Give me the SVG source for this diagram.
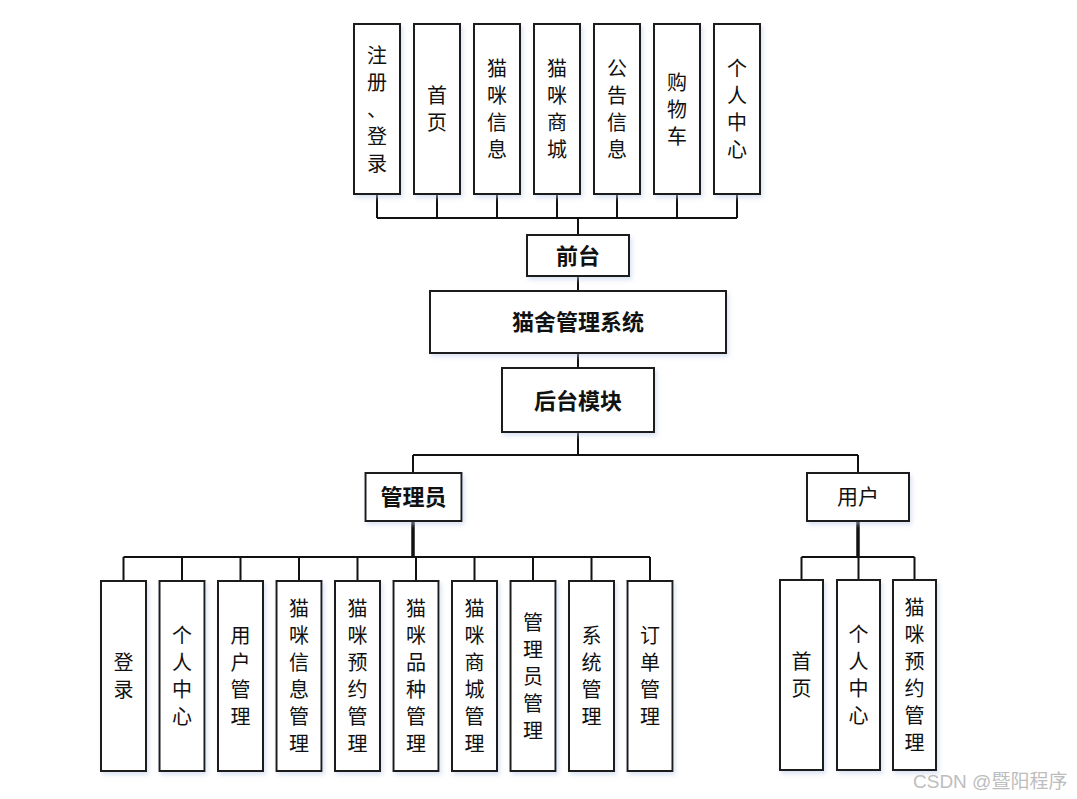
<svg xmlns="http://www.w3.org/2000/svg" width="1077" height="799" viewBox="0 0 1077 799">
<defs>
<filter id="sh" x="-20%" y="-20%" width="140%" height="140%">
<feDropShadow dx="2" dy="3" stdDeviation="2" flood-color="#b8c8e8" flood-opacity="0.5"/>
</filter>
<style>
.box{fill:#ffffff;stroke:#1a1a1a;stroke-width:2;filter:url(#sh)}
.t{font-family:"Noto Sans CJK SC","Microsoft YaHei",sans-serif;font-size:20px;fill:#111;text-anchor:middle;dominant-baseline:central;transform:translateY(-1.5px)}
.b{font-family:"Noto Sans CJK SC","Microsoft YaHei",sans-serif;font-size:22px;font-weight:bold;fill:#111;text-anchor:middle;dominant-baseline:central;transform:translateY(-2px)}
.r{font-family:"Noto Sans CJK SC","Microsoft YaHei",sans-serif;font-size:21px;fill:#111;text-anchor:middle;dominant-baseline:central;transform:translateY(-2px)}
.ln{fill:none;stroke:#111;stroke-width:2}
.thick{fill:none;stroke:#111;stroke-width:3.5}
</style>
</defs>
<rect width="1077" height="799" fill="#ffffff"/>

<g id="connectors">
<path class="ln" d="M377 194V218M437 194V218M497 194V218M557 194V218M617 194V218M677 194V218M737 194V218M377 218H737M578 218V235"/>
<path class="ln" d="M578 276V291M578 353V368M578 432V455M413 455H858M413 455V473M858 455V473"/>
<path class="thick" d="M413 521V557"/>
<path class="ln" d="M123.5 557H650M123.5 557V581M182 557V581M240.5 557V581M299 557V581M357.5 557V581M416 557V581M474.5 557V581M533 557V581M591.5 557V581M650 557V581"/>
<path class="thick" d="M858 521V557"/>
<path class="ln" d="M801.5 557H914.5M801.5 557V580M858.5 557V580M914.5 557V580"/>
</g>

<g id="top-register">
<rect class="box" x="354" y="24" width="46" height="170"/>
<text class="t"><tspan x="377" y="55">注</tspan><tspan x="377" y="82">册</tspan><tspan x="377" y="109">、</tspan><tspan x="377" y="136">登</tspan><tspan x="377" y="163">录</tspan></text>
</g>
<g id="top-home">
<rect class="box" x="414" y="24" width="46" height="170"/>
<text class="t"><tspan x="437" y="95.5">首</tspan><tspan x="437" y="122.5">页</tspan></text>
</g>
<g id="top-catinfo">
<rect class="box" x="474" y="24" width="46" height="170"/>
<text class="t"><tspan x="497" y="68.5">猫</tspan><tspan x="497" y="95.5">咪</tspan><tspan x="497" y="122.5">信</tspan><tspan x="497" y="149.5">息</tspan></text>
</g>
<g id="top-catmall">
<rect class="box" x="534" y="24" width="46" height="170"/>
<text class="t"><tspan x="557" y="68.5">猫</tspan><tspan x="557" y="95.5">咪</tspan><tspan x="557" y="122.5">商</tspan><tspan x="557" y="149.5">城</tspan></text>
</g>
<g id="top-notice">
<rect class="box" x="594" y="24" width="46" height="170"/>
<text class="t"><tspan x="617" y="68.5">公</tspan><tspan x="617" y="95.5">告</tspan><tspan x="617" y="122.5">信</tspan><tspan x="617" y="149.5">息</tspan></text>
</g>
<g id="top-cart">
<rect class="box" x="654" y="24" width="46" height="170"/>
<text class="t"><tspan x="677" y="82">购</tspan><tspan x="677" y="109">物</tspan><tspan x="677" y="136">车</tspan></text>
</g>
<g id="top-personal">
<rect class="box" x="714" y="24" width="46" height="170"/>
<text class="t"><tspan x="737" y="68.5">个</tspan><tspan x="737" y="95.5">人</tspan><tspan x="737" y="122.5">中</tspan><tspan x="737" y="149.5">心</tspan></text>
</g>

<g id="frontend">
<rect class="box" x="527" y="235" width="102" height="41"/>
<text class="b" x="578" y="256">前台</text>
</g>
<g id="system">
<rect class="box" x="430" y="291" width="296" height="62"/>
<text class="b" x="578" y="322">猫舍管理系统</text>
</g>
<g id="backend">
<rect class="box" x="502" y="368" width="152" height="64"/>
<text class="b" x="578" y="401">后台模块</text>
</g>
<g id="admin">
<rect class="box" x="365.5" y="473" width="96" height="48"/>
<text class="b" x="413.5" y="497">管理员</text>
</g>
<g id="user">
<rect class="box" x="807" y="473" width="102" height="48"/>
<text class="r" x="858" y="497">用户</text>
</g>

<g id="admin-login">
<rect class="box" x="101" y="581" width="45" height="190"/>
<text class="t"><tspan x="123.5" y="662.5">登</tspan><tspan x="123.5" y="689.5">录</tspan></text>
</g>
<g id="admin-personal">
<rect class="box" x="159.5" y="581" width="45" height="190"/>
<text class="t"><tspan x="182" y="635.5">个</tspan><tspan x="182" y="662.5">人</tspan><tspan x="182" y="689.5">中</tspan><tspan x="182" y="716.5">心</tspan></text>
</g>
<g id="admin-users">
<rect class="box" x="218" y="581" width="45" height="190"/>
<text class="t"><tspan x="240.5" y="635.5">用</tspan><tspan x="240.5" y="662.5">户</tspan><tspan x="240.5" y="689.5">管</tspan><tspan x="240.5" y="716.5">理</tspan></text>
</g>
<g id="admin-catinfo">
<rect class="box" x="276.5" y="581" width="45" height="190"/>
<text class="t"><tspan x="299" y="608.5">猫</tspan><tspan x="299" y="635.5">咪</tspan><tspan x="299" y="662.5">信</tspan><tspan x="299" y="689.5">息</tspan><tspan x="299" y="716.5">管</tspan><tspan x="299" y="743.5">理</tspan></text>
</g>
<g id="admin-catbooking">
<rect class="box" x="335" y="581" width="45" height="190"/>
<text class="t"><tspan x="357.5" y="608.5">猫</tspan><tspan x="357.5" y="635.5">咪</tspan><tspan x="357.5" y="662.5">预</tspan><tspan x="357.5" y="689.5">约</tspan><tspan x="357.5" y="716.5">管</tspan><tspan x="357.5" y="743.5">理</tspan></text>
</g>
<g id="admin-catbreed">
<rect class="box" x="393.5" y="581" width="45" height="190"/>
<text class="t"><tspan x="416" y="608.5">猫</tspan><tspan x="416" y="635.5">咪</tspan><tspan x="416" y="662.5">品</tspan><tspan x="416" y="689.5">种</tspan><tspan x="416" y="716.5">管</tspan><tspan x="416" y="743.5">理</tspan></text>
</g>
<g id="admin-catmall">
<rect class="box" x="452" y="581" width="45" height="190"/>
<text class="t"><tspan x="474.5" y="608.5">猫</tspan><tspan x="474.5" y="635.5">咪</tspan><tspan x="474.5" y="662.5">商</tspan><tspan x="474.5" y="689.5">城</tspan><tspan x="474.5" y="716.5">管</tspan><tspan x="474.5" y="743.5">理</tspan></text>
</g>
<g id="admin-admins">
<rect class="box" x="510.5" y="581" width="45" height="190"/>
<text class="t"><tspan x="533" y="622">管</tspan><tspan x="533" y="649">理</tspan><tspan x="533" y="676">员</tspan><tspan x="533" y="703">管</tspan><tspan x="533" y="730">理</tspan></text>
</g>
<g id="admin-system">
<rect class="box" x="569" y="581" width="45" height="190"/>
<text class="t"><tspan x="591.5" y="635.5">系</tspan><tspan x="591.5" y="662.5">统</tspan><tspan x="591.5" y="689.5">管</tspan><tspan x="591.5" y="716.5">理</tspan></text>
</g>
<g id="admin-orders">
<rect class="box" x="627.5" y="581" width="45" height="190"/>
<text class="t"><tspan x="650" y="635.5">订</tspan><tspan x="650" y="662.5">单</tspan><tspan x="650" y="689.5">管</tspan><tspan x="650" y="716.5">理</tspan></text>
</g>

<g id="user-home">
<rect class="box" x="780" y="580" width="43" height="190"/>
<text class="t"><tspan x="801.5" y="661.5">首</tspan><tspan x="801.5" y="688.5">页</tspan></text>
</g>
<g id="user-personal">
<rect class="box" x="837" y="580" width="43" height="190"/>
<text class="t"><tspan x="858.5" y="634.5">个</tspan><tspan x="858.5" y="661.5">人</tspan><tspan x="858.5" y="688.5">中</tspan><tspan x="858.5" y="715.5">心</tspan></text>
</g>
<g id="user-catbooking">
<rect class="box" x="893" y="580" width="43" height="190"/>
<text class="t"><tspan x="914.5" y="607.5">猫</tspan><tspan x="914.5" y="634.5">咪</tspan><tspan x="914.5" y="661.5">预</tspan><tspan x="914.5" y="688.5">约</tspan><tspan x="914.5" y="715.5">管</tspan><tspan x="914.5" y="742.5">理</tspan></text>
</g>

<text x="913" y="788" font-family="'Liberation Sans','Noto Sans CJK SC',sans-serif" font-size="19" fill="#bdbdbd">CSDN @暨阳程序</text>
</svg>
